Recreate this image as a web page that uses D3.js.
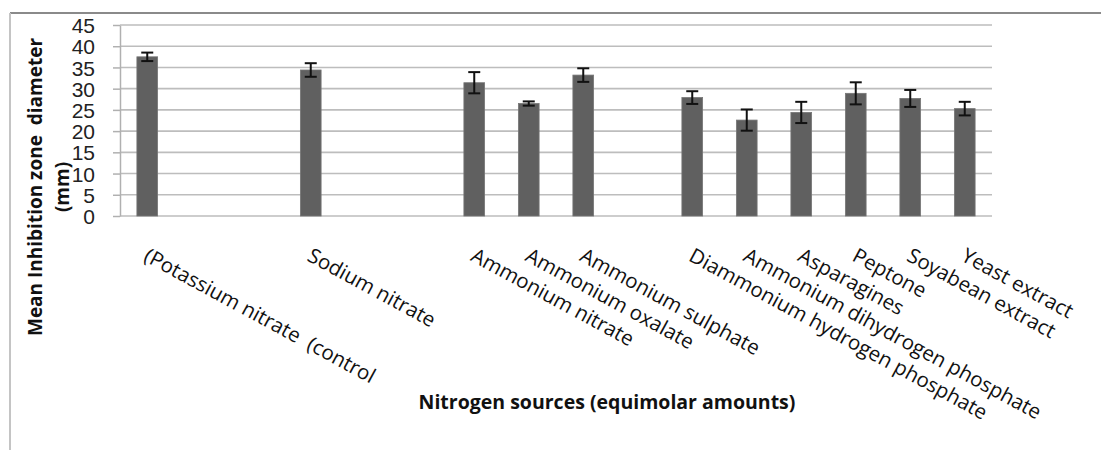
<!DOCTYPE html>
<html>
<head>
<meta charset="utf-8">
<style>
  body { margin: 0; background: #fff; }
  .grid line { stroke: #bdbdbd; stroke-width: 1.6; }
  .axis--y path, .axis--y line { stroke: #b0b0b0; stroke-width: 1.5; }
  .axis--y text { font-family: "Liberation Sans", Arial, sans-serif; font-size: 21px; fill: #222; }
  .cat text { font-family: "Open Sans", sans-serif; font-size: 20.5px; fill: #111; white-space: pre; }
  .title { font-family: "Open Sans", sans-serif; font-weight: bold; fill: #111; white-space: pre; }
</style>
</head>
<body>
<svg width="1101" height="450"></svg>
<script src="https://cdn.jsdelivr.net/npm/d3@7"></script>
<script>

// categories (blank slots are empty gaps in the original axis)
var categories = ["(Potassium nitrate  (control", "", "", "Sodium nitrate", "", "",
    "Ammonium nitrate", "Ammonium oxalate", "Ammonium sulphate", "",
    "Diammonium hydrogen phosphate", "Ammonium dihydrogen phosphate", "Asparagines",
    "Peptone", "Soyabean extract", "Yeast extract"];

// mean inhibition zone diameter (mm)
var means = [37.5, null, null, 34.4, null, null, 31.4, 26.5, 33.2, null,
    27.9, 22.6, 24.4, 28.9, 27.7, 25.3];

// error (+/-)
var errors = [1.0, null, null, 1.6, null, null, 2.5, 0.5, 1.6, null,
    1.5, 2.5, 2.5, 2.6, 2.0, 1.6];

var yTicks = [0, 5, 10, 15, 20, 25, 30, 35, 40, 45];

var svg = d3.select("svg"),
    plotLeft = 120, plotRight = 992, plotTop = 25, plotBottom = 216;

// outer frame (top and left edges only visible)
svg.append("line").attr("x1", 10).attr("x2", 1101).attr("y1", 13).attr("y2", 13)
    .attr("stroke", "#8a8a8a").attr("stroke-width", 2);
svg.append("line").attr("x1", 10).attr("x2", 10).attr("y1", 13).attr("y2", 450)
    .attr("stroke", "#c4c4c4").attr("stroke-width", 2);

var x = d3.scaleBand()
    .domain(d3.range(categories.length))
    .range([plotLeft, plotRight])
    .paddingInner(0.62)
    .paddingOuter(0.31);

var y = d3.scaleLinear()
    .domain([0, 45])
    .range([plotBottom, plotTop]);

// gridlines
svg.append("g")
    .attr("class", "grid")
    .selectAll("line")
    .data(yTicks)
    .enter().append("line")
      .attr("x1", plotLeft)
      .attr("x2", plotRight)
      .attr("y1", function(d) { return y(d); })
      .attr("y2", function(d) { return y(d); });

// y axis
var yAxis = svg.append("g")
    .attr("class", "axis axis--y")
    .attr("transform", "translate(" + plotLeft + ",0)")
    .call(d3.axisLeft(y).tickValues(yTicks).tickSize(7).tickSizeOuter(0).tickPadding(18));
yAxis.selectAll("text").attr("dy", "0.36em");

var data = categories.map(function(c, i) { return {i: i, name: c, v: means[i], e: errors[i]}; });
var filled = data.filter(function(d) { return d.v != null; });

// bars
svg.append("g").selectAll("rect")
    .data(filled)
    .enter().append("rect")
      .attr("x", function(d) { return x(d.i); })
      .attr("width", x.bandwidth())
      .attr("y", function(d) { return y(d.v); })
      .attr("height", function(d) { return y(0) - y(d.v); })
      .attr("fill", "#606060")
      .attr("stroke", "#767676")
      .attr("stroke-width", 0.8);

// error bars
var eb = svg.append("g").attr("stroke", "#111").attr("stroke-width", 2)
    .selectAll("g")
    .data(filled)
    .enter().append("g")
      .attr("transform", function(d) { return "translate(" + (x(d.i) + x.bandwidth() / 2) + ",0)"; });
eb.append("line")
    .attr("y1", function(d) { return y(d.v + d.e); })
    .attr("y2", function(d) { return y(d.v - d.e); });
eb.append("line")
    .attr("x1", -6).attr("x2", 6)
    .attr("y1", function(d) { return y(d.v + d.e); })
    .attr("y2", function(d) { return y(d.v + d.e); });
eb.append("line")
    .attr("x1", -6).attr("x2", 6)
    .attr("y1", function(d) { return y(d.v - d.e); })
    .attr("y2", function(d) { return y(d.v - d.e); });

// rotated category labels
svg.append("g").attr("class", "cat")
    .selectAll("text")
    .data(data.filter(function(d) { return d.name !== ""; }))
    .enter().append("text")
      .attr("transform", function(d) {
        return "translate(" + (x(d.i) + x.bandwidth() / 2 + 3) + ",246) rotate(28.5)";
      })
      .attr("dy", "0.78em")
      .text(function(d) { return d.name; });

// axis titles
var yt = svg.append("text")
    .attr("class", "title")
    .attr("transform", "translate(0,187) rotate(-90)")
    .attr("text-anchor", "middle")
    .style("font-size", "19px");
yt.append("tspan").attr("x", 0).attr("y", 42).text("Mean Inhibition zone  diameter");
yt.append("tspan").attr("x", 0).attr("y", 69).text("(mm)");

svg.append("text")
    .attr("class", "title")
    .attr("x", 607)
    .attr("y", 409)
    .attr("text-anchor", "middle")
    .style("font-size", "19.5px")
    .text("Nitrogen sources (equimolar amounts)");

</script>
</body>
</html>
